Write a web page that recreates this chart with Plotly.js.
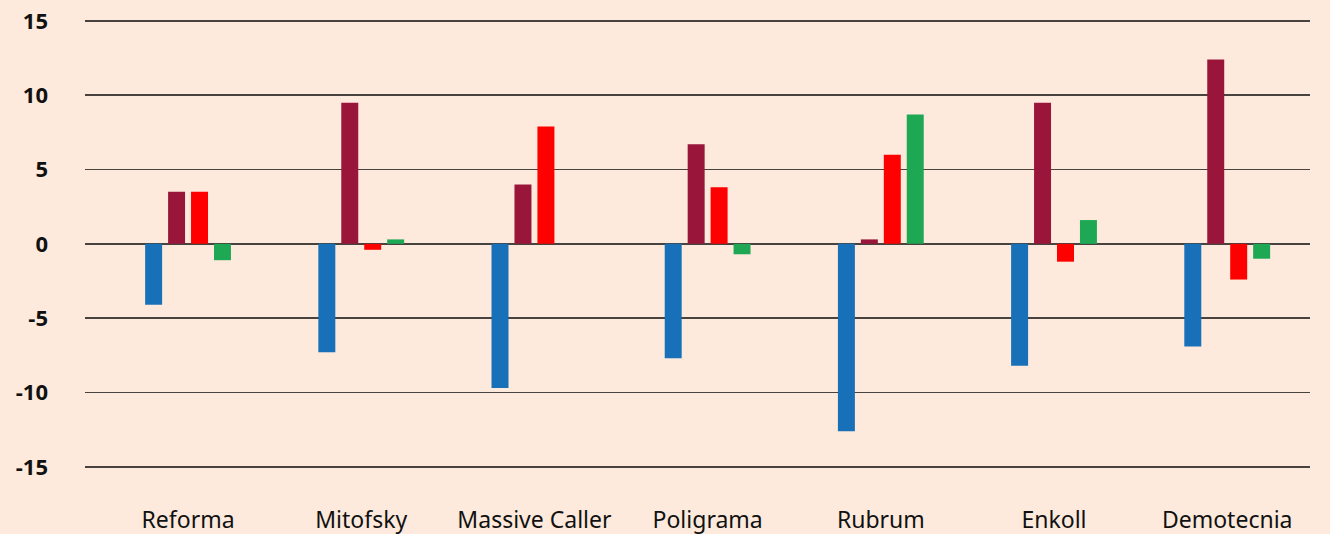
<!DOCTYPE html>
<html>
<head>
<meta charset="utf-8">
<script src="https://cdn.plot.ly/plotly-3.0.1.min.js"></script>
<style>
html,body{margin:0;padding:0;background:#fdeadc;}
#chart{width:1330px;height:534px;}
</style>
</head>
<body>
<div id="chart"></div>
<script>
const categories = ["Reforma","Mitofsky","Massive Caller","Poligrama","Rubrum","Enkoll","Demotecnia"];
const seriesBlue   = [-4.1, -7.3, -9.7, -7.7, -12.6, -8.2, -6.9];
const seriesMaroon = [3.5, 9.5, 4.0, 6.7, 0.3, 9.5, 12.4];
const seriesRed    = [3.5, -0.4, 7.9, 3.8, 6.0, -1.2, -2.4];
const seriesGreen  = [-1.1, 0.3, null, -0.7, 8.7, 1.6, -1.0];
const yTicks = [-15, -10, -5, 0, 5, 10, 15];

const colors = ["#1770b8", "#99163a", "#ff0000", "#1fa854"];
const seriesList = [seriesBlue, seriesMaroon, seriesRed, seriesGreen];

const traces = seriesList.map((vals, i) => ({
  type: "bar",
  x: categories,
  y: vals,
  marker: {color: colors[i], line: {width: 0}},
  hoverinfo: "skip"
}));

const layout = {
  width: 1330,
  height: 534,
  paper_bgcolor: "#fdeadc",
  plot_bgcolor: "#fdeadc",
  margin: {l: 85, r: 20, t: 6, b: 30},
  showlegend: false,
  barmode: "group",
  bargap: 0.47,
  bargroupgap: 0.26,
  xaxis: {
    type: "category",
    range: [-0.595, 6.478],
    showgrid: false,
    zeroline: false,
    showline: false,
    ticks: "",
    tickfont: {family: "Noto Sans, Open Sans, sans-serif", size: 23, color: "#111"},
    ticklabelstandoff: 0
  },
  yaxis: {
    range: [-17.5, 16],
    tickvals: yTicks,
    ticktext: yTicks.map(String),
    showgrid: true,
    gridcolor: "#48433f",
    gridwidth: 1.6,
    zeroline: true,
    zerolinecolor: "#48433f",
    zerolinewidth: 1.6,
    showline: false,
    ticks: "",
    ticklabelstandoff: 36,
    tickfont: {family: "Open Sans, sans-serif", size: 22, color: "#111", weight: "bold"}
  }
};

Plotly.newPlot("chart", traces, layout, {displayModeBar: false, staticPlot: true});
</script>
</body>
</html>
